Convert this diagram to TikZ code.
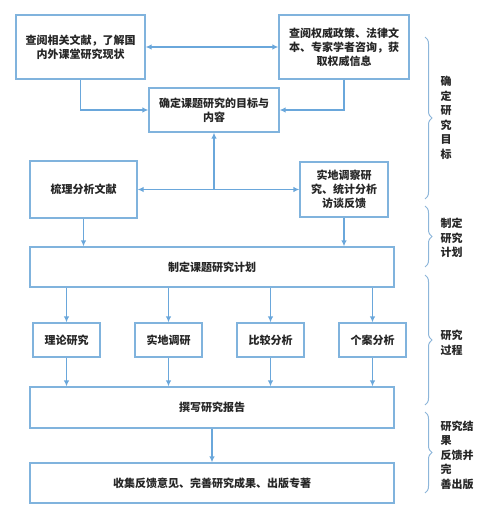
\documentclass[tikz,border=0pt]{standalone}
\usepackage{fontspec}
\setmainfont{Noto Sans CJK SC}
\usepackage{tikz}
\usetikzlibrary{arrows.meta,positioning,calc,decorations.pathreplacing}
\definecolor{RPBorder}{HTML}{80B3DD}
\definecolor{RPArrow}{HTML}{6AA7DB}
\definecolor{RPBrace}{HTML}{8DB6DA}
\definecolor{RPInk}{HTML}{262626}
\tikzset{
  flow/.style={-{Latex[length=6pt,width=5.5pt]},RPArrow,line width=1.2pt},
  flowboth/.style={flow,{Latex[length=6pt,width=5.5pt]}-{Latex[length=6pt,width=5.5pt]}},
  plain/.style={RPArrow,line width=1.2pt},
  card/.style={draw=RPBorder,line width=1.2pt,fill=white,text=RPInk,align=center,
               inner sep=2pt,font=\fontsize{11}{14}\selectfont\bfseries},
  wide/.style={card,minimum width=364pt,minimum height=40pt},
  small/.style={card,minimum width=67pt,minimum height=34pt},
  brace/.style={draw=RPBrace,line width=1pt,decorate,
                decoration={brace,amplitude=7pt}},
  stage/.style={text=RPInk,font=\fontsize{11}{14.5}\selectfont\bfseries,align=left,anchor=west},
}
\begin{document}
\begin{tikzpicture}[x=1pt,y=-1pt]
  \useasboundingbox (0,0) rectangle (500,505);
  % first stage
  \node[card,minimum width=129pt,minimum height=64pt] (lookup) at (80.5,47)
    {查阅相关文献，了解国\\内外课堂研究现状};
  \node[card,minimum width=130pt,minimum height=64pt] (policy) at (344,47)
    {查阅权威政策、法律文\\本、专家学者咨询，获\\取权威信息};
  \node[card,minimum width=130pt,minimum height=44pt] (goal) at (214,110)
    {确定课题研究的目标与\\内容};
  \node[card,minimum width=107pt,minimum height=57pt] (sort) at (83.5,189.5) {梳理分析文献};
  \node[card,minimum width=88pt,minimum height=55pt] (field) at (344,189.5)
    {实地调察研\\究、统计分析\\访谈反馈};
  \draw[flowboth] (lookup) -- (policy);
  \draw[flow] (lookup.south) |- (goal.west);
  \draw[flow] (policy.south) |- (goal.east);
  \draw[flowboth] (sort) -- (field);
  \coordinate (split) at (goal.south |- sort.east);
  \draw[flow] (split) -- (goal.south);
  % plan and research
  \node[wide] (plan) at (212,267) {制定课题研究计划};
  \draw[flow] (sort.south) -- (sort.south |- plan.north);
  \draw[flow] (field.south) -- (field.south |- plan.north);
  \node[wide,minimum height=41pt] (report) at (212,407.5) {撰写研究报告};
  \foreach \name/\x/\txt in {theory/66.5/理论研究,survey/168.5/实地调研,
                             compare/270.5/比较分析,cases/372.5/个案分析}{
    \node[small] (\name) at (\x,340) {\txt};
    \draw[flow] (plan.south -| \name) -- (\name);
    \draw[flow] (\name) -- (report.north -| \name);
  }
  \node[wide] (final) at (212,483) {收集反馈意见、完善研究成果、出版专著};
  \draw[flow] (report) -- (final);
  % stages on the right
  \draw[brace] (425,37) -- (425,199);
  \node[stage] (s1) at (437,118) {确\\定\\研\\究\\目\\标};
  \draw[brace] (425,206) -- (425,267);
  \node[stage] (s2) at (437,238) {制定\\研究\\计划};
  \draw[brace] (425,275) -- (425,405);
  \node[stage] (s3) at (437,343) {研究\\过程};
  \draw[brace] (425,412) -- (425,493);
  \node[stage] (s4) at (437,455) {研究结\\果\\反馈并\\完\\善出版};
\end{tikzpicture}
\end{document}
